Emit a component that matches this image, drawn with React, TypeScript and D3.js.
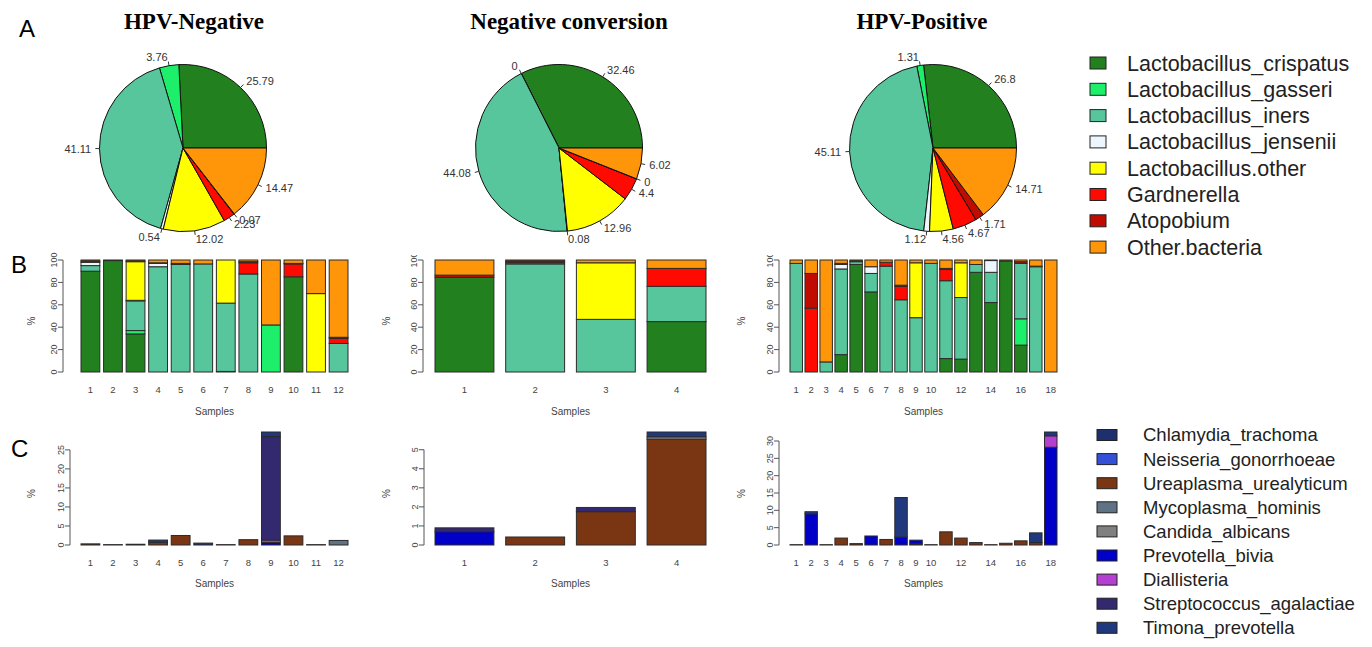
import { arc, pie, scaleBand, scaleLinear, stack } from 'd3'

// ---- data ----
const pieTitles = ['HPV-Negative', 'Negative conversion', 'HPV-Positive']

const commensalNames = [
  'Lactobacillus_crispatus',
  'Lactobacillus_gasseri',
  'Lactobacillus_iners',
  'Lactobacillus_jensenii',
  'Lactobacillus.other',
  'Gardnerella',
  'Atopobium',
  'Other.bacteria',
]
const commensalColors = ['#22801f', '#1def6a', '#57c69c', '#eef6fd', '#ffff00', '#ff0a00', '#c00c00', '#ff9508']

const pieNegative = [25.79, 3.76, 41.11, 0.54, 12.02, 2.23, 0.07, 14.47]
const pieConversion = [32.46, 0, 44.08, 0.08, 12.96, 4.4, 0, 6.02]
const piePositive = [26.8, 1.31, 45.11, 1.12, 4.56, 4.67, 1.71, 14.71]

// relative abundance per sample (columns follow commensalNames)
const compNegative = [
  [90, 0, 5, 3, 0, 0, 1, 1],
  [99.5, 0, 0, 0, 0, 0, 0, 0.5],
  [34, 3, 26.5, 0.5, 34.5, 0, 0.5, 1],
  [0, 0, 94, 3, 0, 0, 0.5, 2.5],
  [0, 0, 96, 0, 0, 0, 1, 3],
  [0, 0, 96.5, 0, 0, 0, 0, 3.5],
  [0.5, 0, 61, 0, 38.5, 0, 0, 0],
  [0, 0, 87.5, 0, 0, 10, 1, 1.5],
  [0, 42, 0, 0, 0, 0, 0, 58],
  [85, 0, 0, 0, 0, 11.5, 0.5, 3],
  [0, 0, 0, 0, 70, 0, 0, 30],
  [0, 0, 25.5, 0, 0, 4.5, 1, 69],
]
const compConversion = [
  [84.5, 0, 0, 0, 0, 0, 2, 13.5],
  [0, 0, 96.5, 0, 0, 1.5, 1, 1],
  [0, 0, 47, 0, 50.5, 0, 0, 2.5],
  [45, 0, 31.5, 0, 0, 16, 0, 7.5],
]
const compPositive = [
  [0, 0, 97, 0, 0, 0, 0, 3],
  [0, 0, 0, 0, 0, 57, 31, 12],
  [0, 0, 9, 0, 0, 0, 0, 91],
  [15.5, 0, 76.5, 4, 0, 0, 1, 3],
  [96, 0, 2.5, 0, 0, 0, 0.5, 1],
  [71.5, 0, 16.5, 6, 0, 0, 0, 6],
  [0, 0, 94.5, 0, 0, 3.5, 0, 2],
  [0, 0, 64.5, 0, 0, 12, 1, 22.5],
  [0, 0, 48.5, 0, 49, 0, 0, 2.5],
  [0, 0, 97, 0, 0, 0, 0, 3],
  [12, 0, 69.5, 0, 0, 10, 1, 7.5],
  [11.5, 0, 55, 0, 31, 0, 0, 2.5],
  [89, 0, 7, 0, 0, 0, 0, 4],
  [62, 0, 27, 10.5, 0, 0, 0, 0.5],
  [99, 0, 0, 0, 0, 0, 0, 1],
  [24, 23.5, 49.5, 0, 0, 0, 1.5, 1.5],
  [0, 0, 94, 0, 0, 0, 0.5, 5.5],
  [0, 0, 0, 0, 0, 0, 0, 100],
]

const pathogenNames = [
  'Chlamydia_trachoma',
  'Neisseria_gonorrhoeae',
  'Ureaplasma_urealyticum',
  'Mycoplasma_hominis',
  'Candida_albicans',
  'Prevotella_bivia',
  'Diallisteria',
  'Streptococcus_agalactiae',
  'Timona_prevotella',
]
const pathogenColors = ['#1e2f6e', '#3550d8', '#7a3512', '#5f7384', '#808080', '#0000c8', '#b43fd0', '#33296f', '#20397e']

// pathogen abundance per sample (columns follow pathogenNames)
const pathNegative = [
  [0, 0, 0.3, 0, 0, 0, 0, 0, 0],
  [0, 0, 0.1, 0, 0, 0, 0, 0, 0],
  [0, 0, 0.2, 0, 0, 0, 0, 0, 0],
  [0, 0, 0.7, 0, 0, 0, 0, 0, 0.6],
  [0, 0, 2.5, 0, 0, 0, 0, 0, 0],
  [0.5, 0, 0, 0, 0, 0, 0, 0, 0],
  [0, 0, 0.1, 0, 0, 0, 0, 0, 0],
  [0, 0, 1.4, 0, 0, 0, 0, 0, 0],
  [0, 0, 0, 0, 0, 0.7, 0.6, 27.2, 1.2],
  [0, 0, 2.4, 0, 0, 0, 0, 0, 0],
  [0, 0, 0.1, 0, 0, 0, 0, 0, 0],
  [0, 0, 0, 1.2, 0, 0, 0, 0, 0],
]
const pathConversion = [
  [0, 0, 0, 0, 0, 0.7, 0, 0.2, 0],
  [0, 0, 0.42, 0, 0, 0, 0, 0, 0],
  [0, 0, 1.75, 0, 0, 0, 0, 0.22, 0],
  [0, 0, 5.55, 0, 0.13, 0, 0, 0, 0.25],
]
const pathPositive = [
  [0, 0, 0.1, 0, 0, 0, 0, 0, 0],
  [0, 0, 0, 0, 0, 9.0, 0, 0, 0.6],
  [0, 0, 0.1, 0, 0, 0, 0, 0, 0],
  [0, 0, 2.0, 0, 0, 0, 0, 0, 0],
  [0, 0, 0.4, 0, 0, 0, 0, 0, 0],
  [0, 0, 0, 0, 0, 2.6, 0, 0, 0],
  [0, 0, 1.6, 0, 0, 0, 0, 0, 0],
  [0, 0, 0, 0, 0, 2.3, 0, 0, 11.4],
  [0, 0, 0.3, 0, 0, 1.1, 0, 0, 0],
  [0, 0, 0.1, 0, 0, 0, 0, 0, 0],
  [0, 0, 3.8, 0, 0, 0, 0, 0, 0],
  [0, 0, 2.0, 0, 0, 0, 0, 0, 0],
  [0, 0, 0.7, 0, 0, 0, 0, 0, 0],
  [0, 0, 0.1, 0, 0, 0, 0, 0, 0],
  [0, 0, 0.5, 0, 0, 0, 0, 0, 0],
  [0, 0, 1.2, 0, 0, 0, 0, 0, 0],
  [0, 0, 0.7, 0, 0, 0, 0, 0, 2.8],
  [0, 0, 0, 0, 0, 28.2, 3.3, 0, 1.1],
]

const labelsFew = ['1', '2', '3', '4']
const labelsTwelve = ['1', '2', '3', '4', '5', '6', '7', '8', '9', '10', '11', '12']
const labelsEighteen = ['1', '2', '3', '4', '5', '6', '7', '8', '9', '10', '', '12', '', '14', '', '16', '', '18']

const ticksB = [0, 20, 40, 60, 80, 100]
const ticksCNegative = [0, 5, 10, 15, 20, 25]
const ticksCConversion = [0, 1, 2, 3, 4, 5]
const ticksCPositive = [0, 5, 10, 15, 20, 25, 30]

// ---- layout ----
const width = 1372
const height = 647
const sans = '"Liberation Sans", Arial, sans-serif'
const serif = '"Liberation Serif", "Times New Roman", serif'

const pies = [
  { values: pieNegative, cx: 183, cy: 148, titleX: 194 },
  { values: pieConversion, cx: 559, cy: 148, titleX: 569 },
  { values: piePositive, cx: 933, cy: 148, titleX: 922 },
]
const pieRadius = 83.5

const panels = [
  { left: 81, right: 348, axisB: 63, axisC: 70, labelX: 32 },
  { left: 435, right: 706, axisB: 423, axisC: 424, labelX: 387 },
  { left: 790, right: 1057, axisB: 779, axisC: 779, labelX: 742 },
]

function PieChart({ values, cx, cy, title, titleX }: { values: number[]; cx: number; cy: number; title: string; titleX: number }) {
  const arcs = pie<number>()
    .sort(null)
    .value((d) => d)
    .startAngle(Math.PI / 2)
    .endAngle(Math.PI / 2 - 2 * Math.PI)(values)
  const slice = arc<any>().innerRadius(0).outerRadius(pieRadius)

  return (
    <g>
      <text x={titleX} y={29} textAnchor="middle" fontFamily={serif} fontWeight="bold" fontSize={23}>
        {title}
      </text>
      <g transform={`translate(${cx}, ${cy})`}>
        {arcs.map((a, i) => (
          <path key={i} d={slice(a) ?? ''} fill={commensalColors[i]} stroke="#111" strokeWidth={1} />
        ))}
        {arcs.map((a, i) => {
          const mid = (a.startAngle + a.endAngle) / 2
          const sx = Math.sin(mid)
          const sy = -Math.cos(mid)
          return (
            <g key={`l${i}`}>
              <line x1={sx * pieRadius} y1={sy * pieRadius} x2={sx * pieRadius * 1.05} y2={sy * pieRadius * 1.05} stroke="#333" />
              <text
                x={sx * pieRadius * 1.1}
                y={sy * pieRadius * 1.1}
                dy="0.35em"
                textAnchor={sx >= 0 ? 'start' : 'end'}
                fontFamily={sans}
                fontSize={11}
                fill="#333"
              >
                {values[i]}
              </text>
            </g>
          )
        })}
      </g>
    </g>
  )
}

type BarPanelProps = {
  rows: number[][]
  names: string[]
  colors: string[]
  labels: string[]
  ticks: number[]
  yMax: number
  y0: number
  yTop: number
  left: number
  right: number
  axisX: number
  labelX: number
  tickY: number
  titleY: number
  clipTop?: number
}

function BarPanel({ rows, names, colors, labels, ticks, yMax, y0, yTop, left, right, axisX, labelX, tickY, titleY, clipTop }: BarPanelProps) {
  const xScale = scaleBand<number>()
    .domain(rows.map((_, i) => i))
    .range([left, right])
    .paddingInner(1 / 6)
    .paddingOuter(0)
  const yScale = scaleLinear().domain([0, yMax]).range([y0, yTop])
  const series = stack<number[], string>()
    .keys(names)
    .value((row, key) => row[names.indexOf(key)])(rows)
  const clipId = `clip-${left}-${y0}`

  return (
    <g>
      {clipTop !== undefined && (
        <clipPath id={clipId}>
          <rect x={axisX - 40} y={clipTop} width={40} height={y0 - clipTop + 20} />
        </clipPath>
      )}
      {series.map((s, k) =>
        s.map((seg, i) => (
          <rect
            key={`${k}-${i}`}
            x={xScale(i)}
            y={yScale(seg[1])}
            width={xScale.bandwidth()}
            height={Math.max(0, yScale(seg[0]) - yScale(seg[1]))}
            fill={colors[k]}
            stroke="#2b2b2b"
            strokeWidth={1}
          />
        )),
      )}
      <line x1={axisX} x2={axisX} y1={yScale(ticks[0])} y2={yScale(ticks[ticks.length - 1])} stroke="#555" />
      <g clipPath={clipTop !== undefined ? `url(#${clipId})` : undefined}>
        {ticks.map((t) => (
          <g key={t}>
            <line x1={axisX - 5} x2={axisX} y1={yScale(t)} y2={yScale(t)} stroke="#555" />
            <text
              transform={`translate(${axisX - 6}, ${yScale(t)}) rotate(-90)`}
              textAnchor="middle"
              fontFamily={sans}
              fontSize={9}
              fill="#444"
            >
              {t}
            </text>
          </g>
        ))}
      </g>
      {labels.map((label, i) => (
        <text key={`x${i}`} x={(xScale(i) ?? 0) + xScale.bandwidth() / 2} y={tickY} textAnchor="middle" fontFamily={sans} fontSize={9.5} fill="#444">
          {label}
        </text>
      ))}
      <text x={(left + right) / 2} y={titleY} textAnchor="middle" fontFamily={sans} fontSize={10} fill="#444">
        Samples
      </text>
      <text transform={`translate(${labelX + 3}, ${(y0 + yTop) / 2 + 5}) rotate(-90)`} textAnchor="middle" fontFamily={sans} fontSize={10} fill="#444">
        %
      </text>
    </g>
  )
}

function totalMax(rows: number[][]) {
  return Math.max(...rows.map((r) => r.reduce((a, b) => a + b, 0)))
}

export default function App() {
  const compRows = [compNegative, compConversion, compPositive]
  const pathRows = [pathNegative, pathConversion, pathPositive]
  const xLabels = [labelsTwelve, labelsFew, labelsEighteen]
  const cTicks = [ticksCNegative, ticksCConversion, ticksCPositive]

  return (
    <svg width={width} height={height} style={{ position: 'absolute', left: 0, top: 0, background: '#fff' }}>
      <text x={19} y={37} fontFamily={sans} fontSize={24}>A</text>
      <text x={11} y={273} fontFamily={sans} fontSize={24}>B</text>
      <text x={11} y={457} fontFamily={sans} fontSize={24}>C</text>

      {pies.map((p, i) => (
        <PieChart key={i} values={p.values} cx={p.cx} cy={p.cy} title={pieTitles[i]} titleX={p.titleX} />
      ))}

      {panels.map((p, i) => (
        <BarPanel
          key={`b${i}`}
          rows={compRows[i]}
          names={commensalNames}
          colors={commensalColors}
          labels={xLabels[i]}
          ticks={ticksB}
          yMax={100}
          y0={372}
          yTop={260}
          left={p.left}
          right={p.right}
          axisX={p.axisB}
          labelX={p.labelX}
          tickY={393}
          titleY={415}
          clipTop={i > 0 ? 255 : undefined}
        />
      ))}

      {panels.map((p, i) => (
        <BarPanel
          key={`c${i}`}
          rows={pathRows[i]}
          names={pathogenNames}
          colors={pathogenColors}
          labels={xLabels[i]}
          ticks={cTicks[i]}
          yMax={totalMax(pathRows[i])}
          y0={545}
          yTop={432}
          left={p.left}
          right={p.right}
          axisX={p.axisC}
          labelX={p.labelX}
          tickY={566}
          titleY={587}
        />
      ))}

      {commensalNames.map((name, i) => (
        <g key={name} transform={`translate(1090, ${63 + i * 26.3})`}>
          <rect x={0} y={-6} width={16} height={12} fill={commensalColors[i]} stroke="#222" />
          <text x={37} y={0} dy="0.35em" fontFamily={sans} fontSize={21.5} fill="#222">
            {name}
          </text>
        </g>
      ))}

      {pathogenNames.map((name, i) => (
        <g key={name} transform={`translate(1097, ${435 + i * 24.1})`}>
          <rect x={0} y={-5.5} width={20} height={11} fill={pathogenColors[i]} stroke="#222" />
          <text x={46} y={0} dy="0.35em" fontFamily={sans} fontSize={18.5} fill="#222">
            {name}
          </text>
        </g>
      ))}
    </svg>
  )
}
